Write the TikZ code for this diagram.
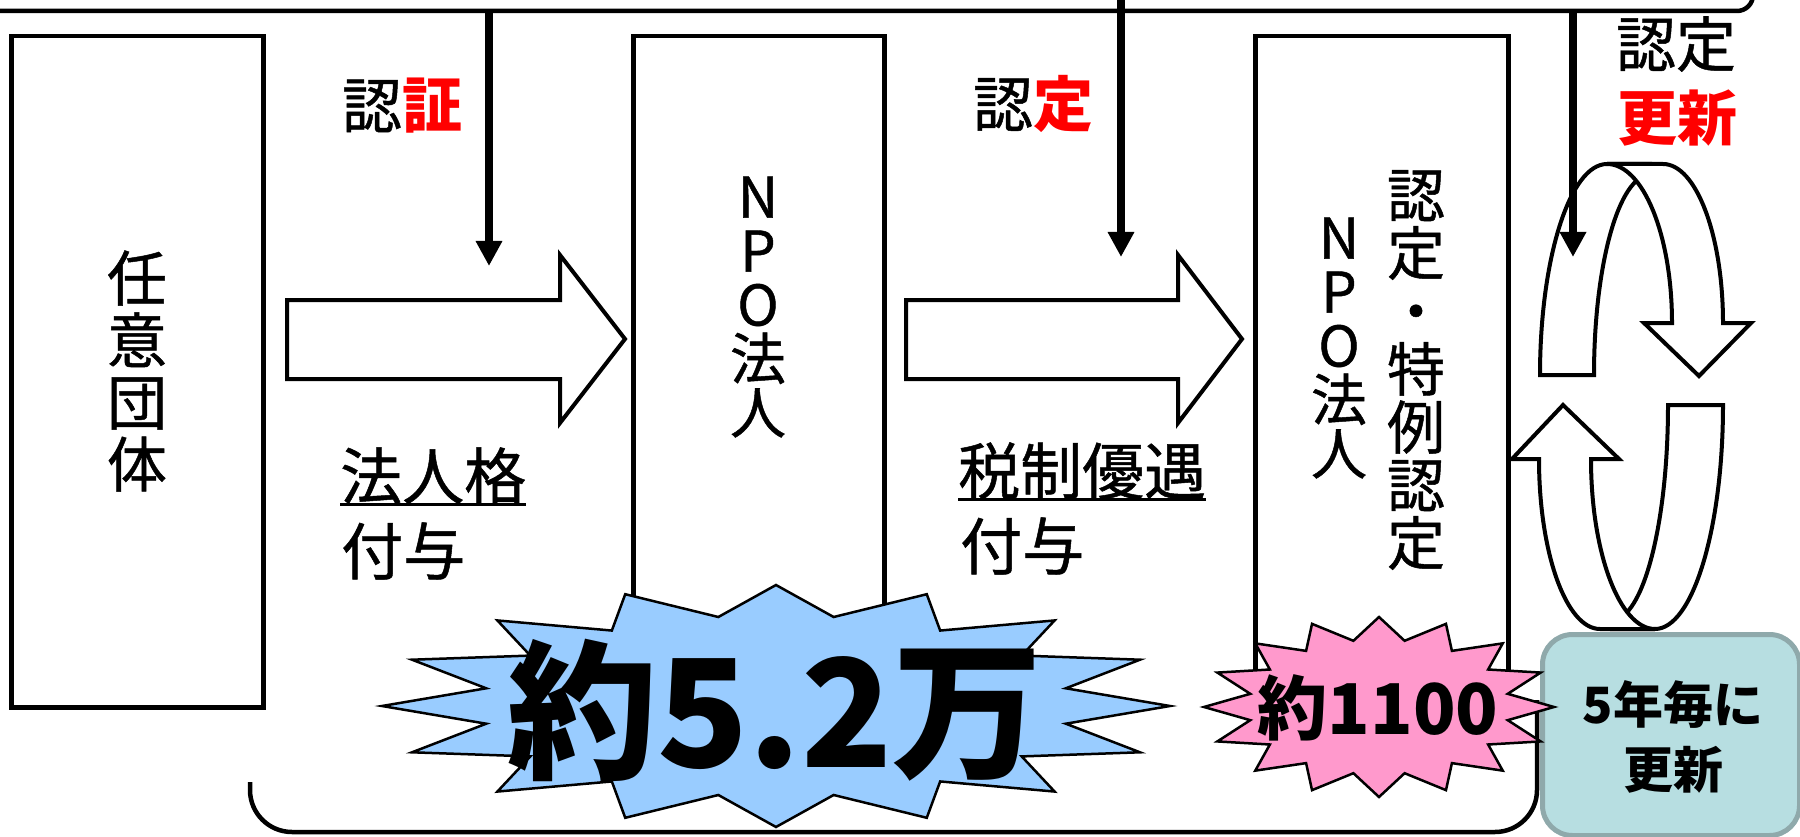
\documentclass[tikz,border=0pt]{standalone}
\usepackage{fontspec}
\setmainfont{Noto Sans CJK JP}
\newfontfamily\jpreg{Noto Sans CJK JP}[FakeBold=0.8]
\usetikzlibrary{arrows.meta}
\definecolor{starblue}{HTML}{99CCFF}
\definecolor{starpink}{HTML}{FF99CC}
\definecolor{tealfill}{HTML}{B7DEE1}
\definecolor{tealedge}{HTML}{8FA9AB}
\definecolor{redtxt}{HTML}{FF0000}
\begin{document}
\begin{tikzpicture}[x=1pt,y=-1pt,
  box/.style={draw, line width=4.5pt, fill=white, anchor=north west, inner sep=0},
  frame/.style={line width=4.5pt},
  txt/.style={inner sep=0, align=center},
  blockarrow/.style={draw, line width=4pt, fill=white, line join=miter},
  pointer/.style={line width=8pt, -{Triangle[length=25pt,width=25pt]}},
  burst/.style={draw, line width=2.5pt, line join=miter},
  ribbon/.style={draw, line width=4pt, fill=white},
  tealbox/.style={draw=tealedge, fill=tealfill, line width=5pt, rounded corners=30pt, anchor=north west, inner sep=0}
]
\useasboundingbox (0,0) rectangle (1800,837);

% frames
\draw[frame, rounded corners=16pt] (-20,11) -- (1753,11) -- (1753,-40);
\draw[frame, rounded corners=42pt] (250,782) -- (250,832) -- (1537,832) -- (1537,700);

% boxes
\node[box, minimum width=252pt, minimum height=671pt] (b1) at (9,34) {};
\node[box, minimum width=251pt, minimum height=671pt] (b2) at (631,34) {};
\node[box, minimum width=253pt, minimum height=671pt] (b3) at (1253,34) {};

% box texts
\node[txt, font=\jpreg\fontsize{60}{62}\selectfont] (t1) at (137,371) {任\\意\\団\\体};
\node[txt, font=\jpreg\fontsize{56}{54}\selectfont] (t2) at (758,307) {N\\P\\O\\法\\人};
\node[txt, font=\jpreg\fontsize{56}{54}\selectfont] (t3a) at (1339,348) {N\\P\\O\\法\\人};
\node[txt, font=\jpreg\fontsize{58}{58}\selectfont] (t3b) at (1416,370) {認\\定\\・\\特\\例\\認\\定};

% block arrows
\draw[blockarrow] (287,300) -- (560,300) -- (560,255) -- (625,339) -- (560,423) -- (560,379) -- (287,379) -- cycle;
\draw[blockarrow] (906,300) -- (1178,300) -- (1178,255) -- (1242,339) -- (1178,423) -- (1178,379) -- (906,379) -- cycle;

% labels
\node[txt, font=\fontsize{60}{60}\selectfont] (l1) at (402,106) {{\jpreg 認}\textcolor{redtxt}{\bfseries 証}};
\node[txt, font=\fontsize{60}{60}\selectfont] (l2) at (1033,104) {{\jpreg 認}\textcolor{redtxt}{\bfseries 定}};
\node[txt, font=\jpreg\fontsize{60}{60}\selectfont] (l3) at (1676,44) {認定};
\node[txt, font=\bfseries\fontsize{60}{60}\selectfont, text=redtxt] (l4) at (1677,118) {更新};

\node[txt, font=\jpreg\fontsize{62}{62}\selectfont, anchor=west] (g1) at (340,476) {法人格};
\node[txt, font=\jpreg\fontsize{62}{62}\selectfont, anchor=west] (g2) at (341,551) {付与};
\draw[line width=3pt] (g1.south west) -- (g1.south east);
\node[txt, font=\jpreg\fontsize{62}{62}\selectfont, anchor=west] (h1) at (958,471) {税制優遇};
\node[txt, font=\jpreg\fontsize{62}{62}\selectfont, anchor=west] (h2) at (960,546) {付与};
\draw[line width=3pt] (h1.south west) -- (h1.south east);

% renewal ribbon, top
\draw[ribbon] (1540,375) .. controls (1540,258.5) and (1570,164) .. (1607,164) -- (1650,164) -- (1650,175)
  .. controls (1619,175) and (1594,264.5) .. (1594,375) -- cycle;
\draw[ribbon] (1607,164) -- (1663,164) .. controls (1696,164) and (1723,235) .. (1723,323)
  -- (1751,323) -- (1699,376) -- (1644,323) -- (1672,323)
  .. controls (1672,235) and (1643,164) .. (1607,164) -- cycle;
% renewal ribbon, bottom
\draw[ribbon] (1668,405) -- (1723,405) .. controls (1723,528.7) and (1692.6,629) .. (1655,629)
  -- (1612,629) -- (1612,620) .. controls (1643,620) and (1668,523.7) .. (1668,405) -- cycle;
\draw[ribbon] (1563,405) -- (1619,459) -- (1591,459) .. controls (1591,552.9) and (1619.7,629) .. (1655,629)
  -- (1600,629) .. controls (1566.3,629) and (1539,552.9) .. (1539,459) -- (1512,459) -- cycle;

% blue burst
\filldraw[burst, fill=starblue] plot[domain=0:32, samples=33, variable=\k]
  ({776+(1-0.25*mod(round(\k),2))*394*cos(90+11.25*\k)}, {706+(1-0.25*mod(round(\k),2))*121*sin(90+11.25*\k)}) -- cycle;
\node[txt, font=\bfseries\fontsize{150}{150}\selectfont] (n1) at (775,710) {約5.2万};

% teal box
\node[tealbox, minimum width=257pt, minimum height=201pt] (tb) at (1540,632) {};
\node[txt, font=\bfseries\fontsize{50}{65}\selectfont] (tbt) at (1673,737) {5年毎に\\更新};

% pink burst
\filldraw[burst, fill=starpink] plot[domain=0:32, samples=33, variable=\k]
  ({1379+(1-0.25*mod(round(\k),2))*175*cos(90+11.25*\k)}, {707+(1-0.25*mod(round(\k),2))*90*sin(90+11.25*\k)}) -- cycle;
\node[txt, font=\bfseries\fontsize{70}{70}\selectfont] (n2) at (1378,708) {約1100};

% pointers
\coordinate (p1s) at (489,11);  \coordinate (p1e) at (489,266);
\coordinate (p2s) at (1121,-2); \coordinate (p2e) at (1121,257);
\coordinate (p3s) at (1573,11); \coordinate (p3e) at (1573,257);
\draw[pointer] (p1s) -- (p1e);
\draw[pointer] (p2s) -- (p2e);
\draw[pointer] (p3s) -- (p3e);
\end{tikzpicture}
\end{document}
